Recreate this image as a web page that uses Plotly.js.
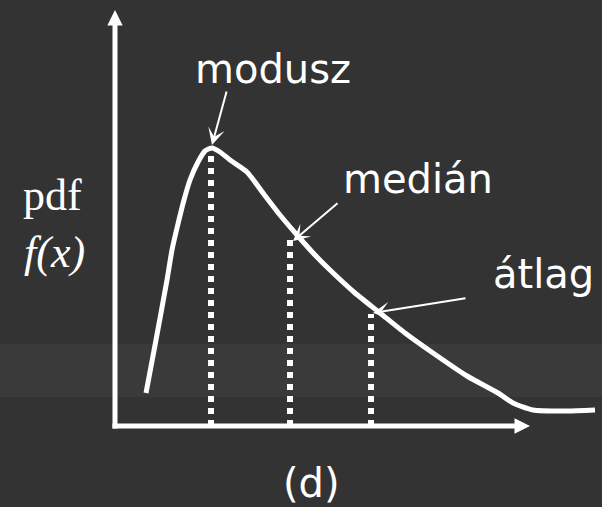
<!DOCTYPE html>
<html>
<head>
<meta charset="utf-8">
<script src="https://cdn.plot.ly/plotly-3.0.1.min.js"></script>
<style>html,body{margin:0;padding:0;background:#333333;}#chart{width:602px;height:507px;}</style>
</head>
<body>
<div id="chart"></div>
<script>
// Curve of the skewed pdf (x along the horizontal axis, y = f(x))
var curveX = [0.31, 0.41, 0.52, 0.57, 0.62, 0.69, 0.75, 0.83, 0.90, 0.97, 1.05, 1.15, 1.32, 1.48, 1.65, 1.82, 2.00, 2.15, 2.40, 2.65, 2.90, 3.18, 3.52, 3.83, 3.98, 4.18, 4.52, 4.80];
var curveY = [0.33, 0.86, 1.46, 1.76, 1.98, 2.26, 2.46, 2.64, 2.75, 2.78, 2.74, 2.66, 2.54, 2.33, 2.11, 1.91, 1.71, 1.56, 1.33, 1.13, 0.93, 0.73, 0.50, 0.33, 0.23, 0.16, 0.15, 0.16];
// Location measures: modusz, medián, átlag
var measureNames = ['modusz', 'medián', 'átlag'];
var measureX = [0.96, 1.75, 2.56];
var measureTop = [2.71, 1.92, 1.12];
var yLabel = ['pdf', '<i>f(x)</i>'];
var caption = '(d)';

var dotX = [], dotY = [];
for (var i = 0; i < measureX.length; i++) {
  dotX.push(measureX[i], measureX[i], null);
  dotY.push(0, measureTop[i], null);
}

var traces = [
  {x: dotX, y: dotY, mode: 'lines', line: {color: '#ffffff', width: 6, dash: '6px,6px'}, hoverinfo: 'skip', showlegend: false},
  {x: curveX, y: curveY, mode: 'lines', line: {color: '#ffffff', width: 5, shape: 'spline', smoothing: 0.6}, hoverinfo: 'skip', showlegend: false}
];

var white = '#ffffff';
var labelFont = {family: 'Comic Sans MS, DejaVu Sans, sans-serif', size: 40, color: white};
var serifFont = {family: 'Liberation Serif, Times New Roman, serif', size: 44, color: white};

var labelPos = [[1.58, 3.57], [3.025, 2.47], [4.285, 1.52]];
var arrowTip = [[0.97, 2.81], [1.78, 1.85], [2.58, 1.13]];
var arrowTail = [[1.12, 3.36], [2.24, 2.24], [3.52, 1.28]];

var annotations = [];
for (var j = 0; j < measureNames.length; j++) {
  annotations.push({x: labelPos[j][0], y: labelPos[j][1], xref: 'x', yref: 'y', text: measureNames[j], showarrow: false, font: labelFont, xanchor: 'center', yanchor: 'middle'});
  annotations.push({x: arrowTip[j][0], y: arrowTip[j][1], ax: arrowTail[j][0], ay: arrowTail[j][1], xref: 'x', yref: 'y', axref: 'x', ayref: 'y', text: '', showarrow: true, arrowhead: 3, arrowsize: 1.4, arrowwidth: 2, arrowcolor: white, standoff: 0});
}
annotations.push({x: -0.63, y: 2.31, xref: 'x', yref: 'y', text: yLabel[0], showarrow: false, font: serifFont, xanchor: 'center', yanchor: 'middle'});
annotations.push({x: -0.61, y: 1.74, xref: 'x', yref: 'y', text: yLabel[1], showarrow: false, font: serifFont, xanchor: 'center', yanchor: 'middle'});
annotations.push({x: 1.96, y: -0.57, xref: 'x', yref: 'y', text: caption, showarrow: false, font: labelFont, xanchor: 'center', yanchor: 'middle'});

var shapes = [
  {type: 'rect', xref: 'paper', yref: 'y', x0: 0, x1: 1, y0: 0.29, y1: 0.82, fillcolor: '#3a3a3a', line: {width: 0}, layer: 'below'},
  {type: 'line', xref: 'x', yref: 'y', x0: 0, x1: 0, y0: -0.025, y1: 4.03, line: {color: white, width: 5}},
  {type: 'path', xref: 'x', yref: 'y', path: 'M -0.077 4.005 L 0 4.16 L 0.077 4.005 Z', fillcolor: white, line: {color: white, width: 0}},
  {type: 'line', xref: 'x', yref: 'y', x0: -0.025, x1: 4.02, y0: 0, y1: 0, line: {color: white, width: 5}},
  {type: 'path', xref: 'x', yref: 'y', path: 'M 3.995 0.077 L 4.15 0 L 3.995 -0.077 Z', fillcolor: white, line: {color: white, width: 0}}
];

var layout = {
  width: 602, height: 507,
  margin: {l: 0, r: 0, t: 0, b: 0, pad: 0},
  paper_bgcolor: '#333333', plot_bgcolor: 'rgba(0,0,0,0)',
  xaxis: {range: [-1.15, 4.87], visible: false, fixedrange: true},
  yaxis: {range: [-0.81, 4.26], visible: false, fixedrange: true},
  showlegend: false,
  shapes: shapes,
  annotations: annotations
};

Plotly.newPlot('chart', traces, layout, {staticPlot: true, displayModeBar: false});
</script>
</body>
</html>
